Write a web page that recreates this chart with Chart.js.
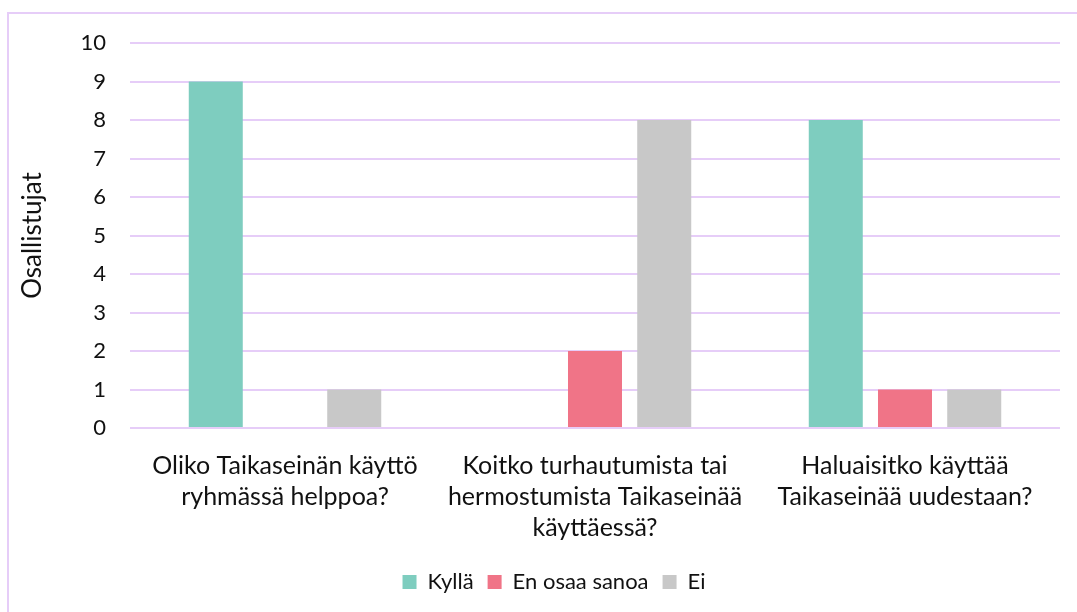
<!DOCTYPE html>
<html>
<head>
<meta charset="utf-8">
<script src="https://cdn.jsdelivr.net/npm/chart.js@4/dist/chart.umd.min.js"></script>
<style>
  html, body { margin: 0; padding: 0; background: #fff; }
  #wrap { position: relative; width: 1077px; height: 612px; overflow: hidden; }
  #frame { position: absolute; left: 7px; top: 12px; width: 1200px; height: 700px;
           border-left: 2px solid #e6cdf8; border-top: 2px solid #e6cdf8; }
  canvas { position: absolute; left: 0; top: 0; }
</style>
</head>
<body>
<div id="wrap">
  <div id="frame"></div>
  <canvas id="chart" width="1077" height="612"></canvas>
</div>
<script>
var categories = [
    ['Oliko Taikaseinän käyttö', 'ryhmässä helppoa?'],
    ['Koitko turhautumista tai', 'hermostumista Taikaseinää', 'käyttäessä?'],
    ['Haluaisitko käyttää', 'Taikaseinää uudestaan?']
];
var kylla = [9, 0, 8];
var enOsaaSanoa = [0, 2, 1];
var ei = [1, 8, 1];
var yTicks = [0, 1, 2, 3, 4, 5, 6, 7, 8, 9, 10];

var fontName = 'Lato, "Open Sans", sans-serif';

Chart.defaults.font.family = fontName;
Chart.defaults.color = '#000';

// legend sits a bit right of the canvas centre in the original
var legendShift = {
    id: 'legendShift',
    afterLayout: function(chart) {
        chart.legend.left += 20;
        chart.legend.right += 20;
    }
};

var ctx = document.getElementById('chart').getContext('2d');
var chart = new Chart(ctx, {
    type: 'bar',
    data: {
        labels: categories,
        datasets: [
            { label: 'Kyllä', data: kylla, backgroundColor: '#7ecdbf' },
            { label: 'En osaa sanoa', data: enOsaaSanoa, backgroundColor: '#f07487' },
            { label: 'Ei', data: ei, backgroundColor: '#c8c8c8' }
        ]
    },
    plugins: [legendShift],
    options: {
        responsive: false,
        animation: false,
        devicePixelRatio: 1,
        layout: { padding: { left: 8, right: 17, top: 43, bottom: 9 } },
        datasets: { bar: { barPercentage: 0.78, categoryPercentage: 0.67 } },
        plugins: {
            tooltip: { enabled: false },
            legend: {
                position: 'bottom',
                labels: {
                    boxWidth: 14, boxHeight: 14, padding: 14,
                    font: { size: 22 }, color: '#111'
                }
            }
        },
        scales: {
            x: {
                grid: { display: false, drawTicks: false },
                border: { display: false },
                ticks: { font: { size: 25, lineHeight: 1.24 }, padding: 22, maxRotation: 0, autoSkip: false, color: '#111' },
                afterFit: function(s) { s.height = 129; }
            },
            y: {
                min: 0, max: 10,
                afterBuildTicks: function(s) { s.ticks = yTicks.map(function(v) { return { value: v }; }); },
                grid: { color: '#e6cdf8', lineWidth: 2, drawTicks: false },
                border: { display: false },
                ticks: { font: { size: 22 }, padding: 24, color: '#111' },
                title: { display: true, text: 'Osallistujat', font: { size: 26 }, color: '#111', padding: { top: 9, bottom: 0 } },
                afterFit: function(s) { s.width = 122; }
            }
        }
    }
});
</script>
</body>
</html>
